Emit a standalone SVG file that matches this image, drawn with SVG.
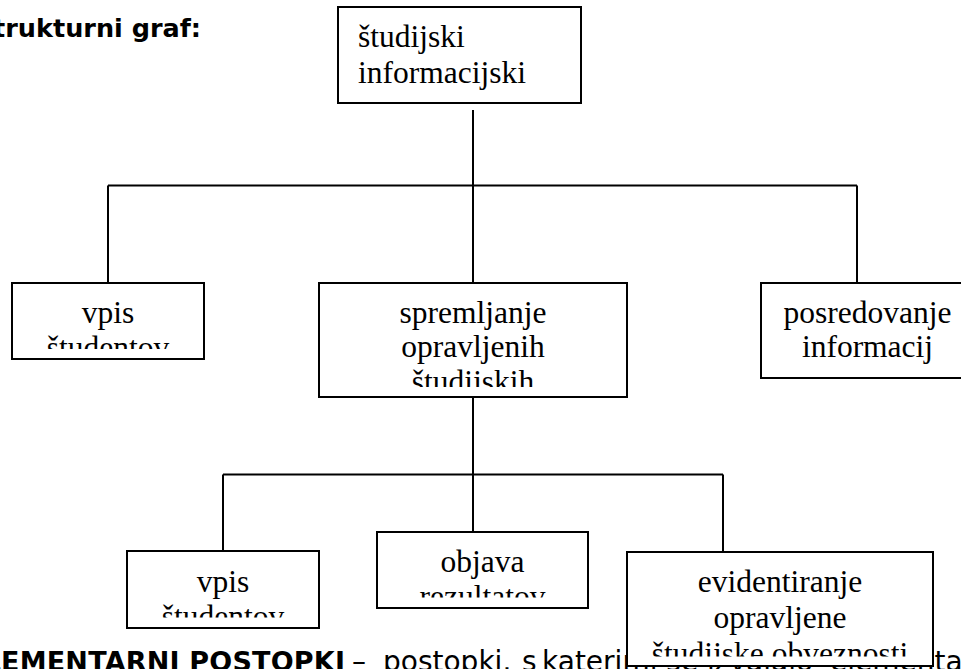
<svg xmlns="http://www.w3.org/2000/svg" width="961" height="669" viewBox="0 0 961 669">
  <style>
    .box { fill: #ffffff; stroke: #000000; stroke-width: 2; }
    .lbl { font-family: "Liberation Serif", "Times New Roman", serif; font-size: 31.5px; fill: #000000; }
    .mid { text-anchor: middle; }
    .conn { fill: none; stroke: #000000; stroke-width: 2; }
    .sans { font-family: "DejaVu Sans", Verdana, sans-serif; fill: #000000; }
    .body { font-size: 28px; }
  </style>
  <defs>
    <clipPath id="c-vpis1"><rect x="12" y="283" width="192" height="66"/></clipPath>
    <clipPath id="c-sprem"><rect x="319" y="283" width="308" height="104"/></clipPath>
    <clipPath id="c-vpis2"><rect x="127" y="551" width="192" height="66.5"/></clipPath>
    <clipPath id="c-objava"><rect x="377" y="532" width="211" height="65.5"/></clipPath>
    <clipPath id="c-evid"><rect x="627" y="552" width="306" height="104.5"/></clipPath>
  </defs>

  <text class="sans" x="201" y="37" font-size="25.5" font-weight="bold" text-anchor="end">Strukturni graf:</text>

  <text class="sans" x="-35" y="671" font-size="27" font-weight="bold" textLength="380" lengthAdjust="spacing">ELEMENTARNI POSTOPKI</text>
  <text class="sans body" x="352" y="671">–</text>
  <text class="sans body" x="383" y="671">postopki,</text>
  <text class="sans body" x="522" y="671">s</text>
  <text class="sans body" x="542" y="671">katerimi se izvajajo</text>
  <text class="sans body" x="830" y="671">elementarne</text>

  <g id="connectors">
    <line class="conn" x1="473" y1="110" x2="473" y2="283"/>
    <line class="conn" x1="108" y1="185.5" x2="857" y2="185.5"/>
    <line class="conn" x1="108" y1="185.5" x2="108" y2="283"/>
    <line class="conn" x1="857" y1="185.5" x2="857" y2="283"/>
    <line class="conn" x1="473" y1="397" x2="473" y2="532"/>
    <line class="conn" x1="223" y1="474.5" x2="723" y2="474.5"/>
    <line class="conn" x1="223" y1="474.5" x2="223" y2="551"/>
    <line class="conn" x1="723" y1="474.5" x2="723" y2="552"/>
  </g>

  <g id="n-root">
    <rect class="box" x="338" y="7" width="243" height="96"/>
    <text class="lbl" x="358" y="47">študijski</text>
    <text class="lbl" x="358" y="83">informacijski</text>
  </g>

  <g id="n-vpis1">
    <rect class="box" x="12" y="283" width="192" height="76"/>
    <g clip-path="url(#c-vpis1)">
      <text class="lbl mid" x="108" y="323">vpis</text>
      <text class="lbl mid" x="108" y="358">študentov</text>
    </g>
  </g>

  <g id="n-sprem">
    <rect class="box" x="319" y="283" width="308" height="114"/>
    <g clip-path="url(#c-sprem)">
      <text class="lbl mid" x="473" y="323">spremljanje</text>
      <text class="lbl mid" x="473" y="357">opravljenih</text>
      <text class="lbl mid" x="473" y="392">študijskih</text>
    </g>
  </g>

  <g id="n-posred">
    <rect class="box" x="761" y="283" width="214" height="95"/>
    <text class="lbl mid" x="867.5" y="323">posredovanje</text>
    <text class="lbl mid" x="867.5" y="357">informacij</text>
  </g>

  <g id="n-vpis2">
    <rect class="box" x="127" y="551" width="192" height="77"/>
    <g clip-path="url(#c-vpis2)">
      <text class="lbl mid" x="223" y="591.5">vpis</text>
      <text class="lbl mid" x="223" y="627">študentov</text>
    </g>
  </g>

  <g id="n-objava">
    <rect class="box" x="377" y="532" width="211" height="76"/>
    <g clip-path="url(#c-objava)">
      <text class="lbl mid" x="482.5" y="572">objava</text>
      <text class="lbl mid" x="482.5" y="607">rezultatov</text>
    </g>
  </g>

  <g id="n-evid">
    <rect class="box" x="627" y="552" width="306" height="114"/>
    <g clip-path="url(#c-evid)">
      <text class="lbl mid" x="780" y="592">evidentiranje</text>
      <text class="lbl mid" x="780" y="628">opravljene</text>
      <text class="lbl mid" x="780" y="664">študijske obveznosti</text>
    </g>
  </g>
</svg>
